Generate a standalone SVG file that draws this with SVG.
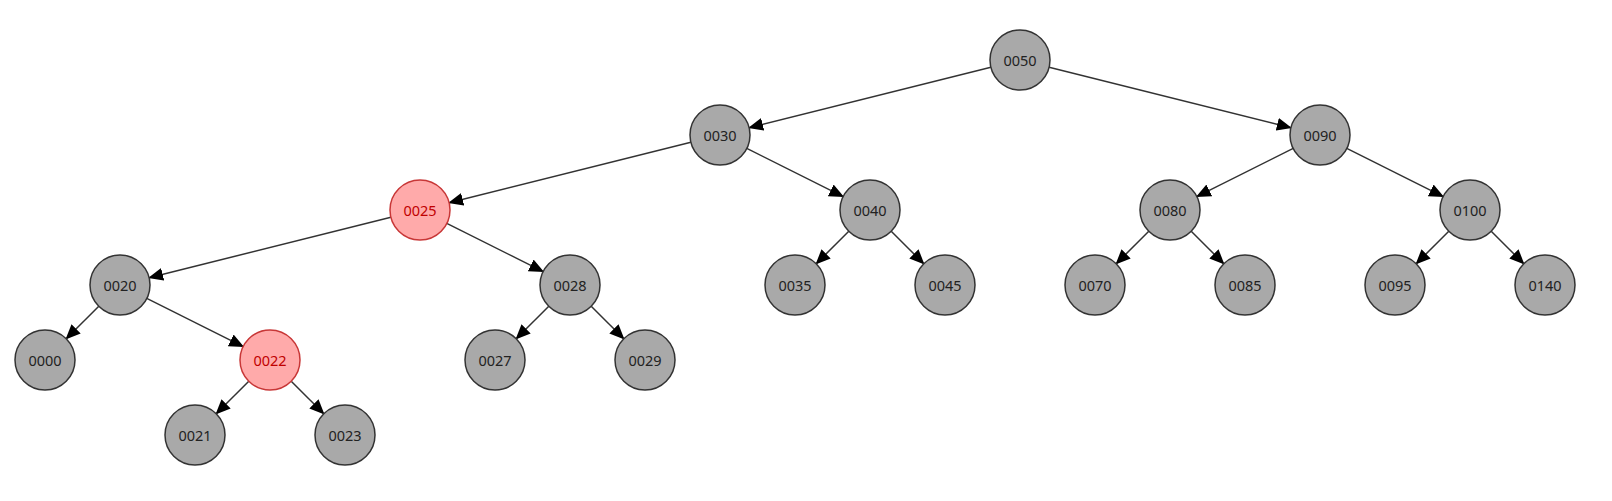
<svg xmlns="http://www.w3.org/2000/svg" width="1612" height="501" viewBox="0 0 1612 501">
<style>
.n circle{fill:#a9a9a9;stroke:#333;stroke-width:1.5}
.n text{font-family:"Noto Sans","Open Sans",sans-serif;font-size:14.5px;fill:#222;text-anchor:middle;dominant-baseline:central}
.r circle{fill:#ffaaaa;stroke:#c83737}
.r text{fill:#c00000}
#edges line{stroke:#333;stroke-width:1.5;marker-end:url(#ah)}
</style>
<defs>
<marker id="ah" markerUnits="userSpaceOnUse" markerWidth="15" markerHeight="13" viewBox="0 0 15 13" refX="14" refY="6.5" orient="auto">
<path d="M0,0 L15,6.5 L0,13 z" fill="#000"/>
</marker>
</defs>
<rect width="1612" height="501" fill="#fff"/>
<g id="edges">
<line x1="990.9" y1="67.3" x2="749.1" y2="127.7"/>
<line x1="1049.1" y1="67.3" x2="1290.9" y2="127.7"/>
<line x1="690.9" y1="142.3" x2="449.1" y2="202.7"/>
<line x1="746.8" y1="148.4" x2="843.2" y2="196.6"/>
<line x1="1293.2" y1="148.4" x2="1196.8" y2="196.6"/>
<line x1="1346.8" y1="148.4" x2="1443.2" y2="196.6"/>
<line x1="390.9" y1="217.3" x2="149.1" y2="277.7"/>
<line x1="446.8" y1="223.4" x2="543.2" y2="271.6"/>
<line x1="848.8" y1="231.2" x2="816.2" y2="263.8"/>
<line x1="891.2" y1="231.2" x2="923.8" y2="263.8"/>
<line x1="1148.8" y1="231.2" x2="1116.2" y2="263.8"/>
<line x1="1191.2" y1="231.2" x2="1223.8" y2="263.8"/>
<line x1="1448.8" y1="231.2" x2="1416.2" y2="263.8"/>
<line x1="1491.2" y1="231.2" x2="1523.8" y2="263.8"/>
<line x1="98.8" y1="306.2" x2="66.2" y2="338.8"/>
<line x1="146.8" y1="298.4" x2="243.2" y2="346.6"/>
<line x1="548.8" y1="306.2" x2="516.2" y2="338.8"/>
<line x1="591.2" y1="306.2" x2="623.8" y2="338.8"/>
<line x1="248.8" y1="381.2" x2="216.2" y2="413.8"/>
<line x1="291.2" y1="381.2" x2="323.8" y2="413.8"/>
</g>
<g id="n0050" class="n"><circle cx="1020" cy="60" r="30"/><text x="1020" y="60">0050</text></g>
<g id="n0030" class="n"><circle cx="720" cy="135" r="30"/><text x="720" y="135">0030</text></g>
<g id="n0090" class="n"><circle cx="1320" cy="135" r="30"/><text x="1320" y="135">0090</text></g>
<g id="n0025" class="n r"><circle cx="420" cy="210" r="30"/><text x="420" y="210">0025</text></g>
<g id="n0040" class="n"><circle cx="870" cy="210" r="30"/><text x="870" y="210">0040</text></g>
<g id="n0080" class="n"><circle cx="1170" cy="210" r="30"/><text x="1170" y="210">0080</text></g>
<g id="n0100" class="n"><circle cx="1470" cy="210" r="30"/><text x="1470" y="210">0100</text></g>
<g id="n0020" class="n"><circle cx="120" cy="285" r="30"/><text x="120" y="285">0020</text></g>
<g id="n0028" class="n"><circle cx="570" cy="285" r="30"/><text x="570" y="285">0028</text></g>
<g id="n0035" class="n"><circle cx="795" cy="285" r="30"/><text x="795" y="285">0035</text></g>
<g id="n0045" class="n"><circle cx="945" cy="285" r="30"/><text x="945" y="285">0045</text></g>
<g id="n0070" class="n"><circle cx="1095" cy="285" r="30"/><text x="1095" y="285">0070</text></g>
<g id="n0085" class="n"><circle cx="1245" cy="285" r="30"/><text x="1245" y="285">0085</text></g>
<g id="n0095" class="n"><circle cx="1395" cy="285" r="30"/><text x="1395" y="285">0095</text></g>
<g id="n0140" class="n"><circle cx="1545" cy="285" r="30"/><text x="1545" y="285">0140</text></g>
<g id="n0000" class="n"><circle cx="45" cy="360" r="30"/><text x="45" y="360">0000</text></g>
<g id="n0022" class="n r"><circle cx="270" cy="360" r="30"/><text x="270" y="360">0022</text></g>
<g id="n0027" class="n"><circle cx="495" cy="360" r="30"/><text x="495" y="360">0027</text></g>
<g id="n0029" class="n"><circle cx="645" cy="360" r="30"/><text x="645" y="360">0029</text></g>
<g id="n0021" class="n"><circle cx="195" cy="435" r="30"/><text x="195" y="435">0021</text></g>
<g id="n0023" class="n"><circle cx="345" cy="435" r="30"/><text x="345" y="435">0023</text></g>
</svg>
